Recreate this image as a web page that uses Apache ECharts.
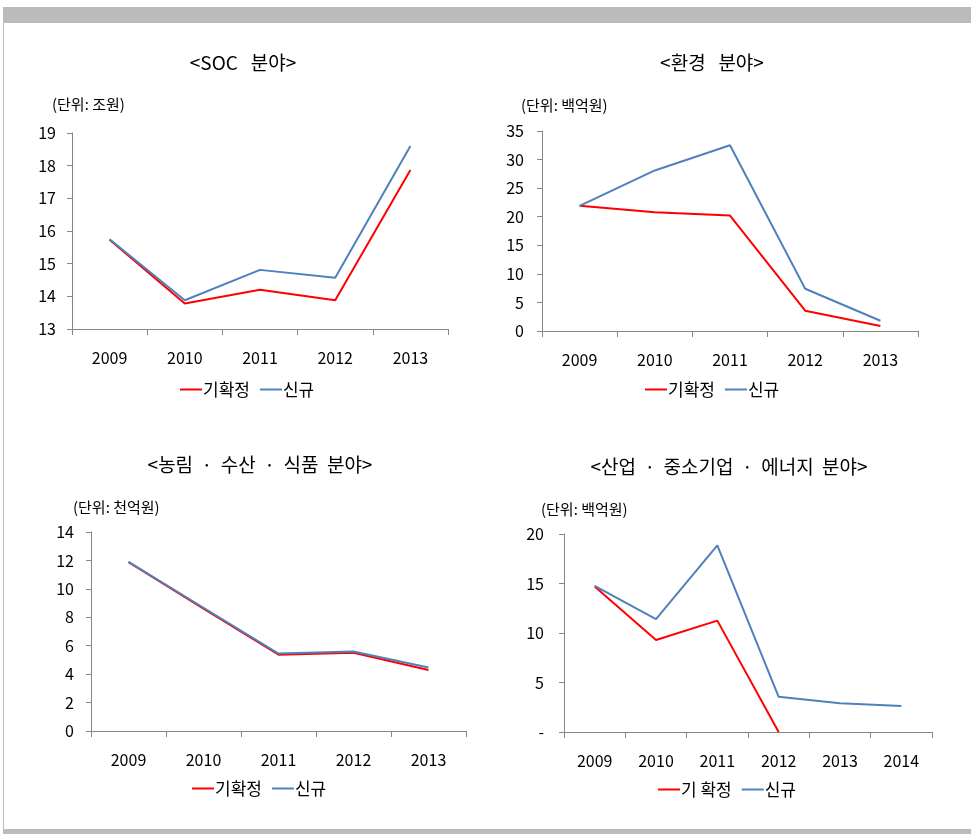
<!DOCTYPE html>
<html>
<head>
<meta charset="utf-8">
<script src="https://cdn.jsdelivr.net/npm/echarts@6/dist/echarts.min.js"></script>
<style>
  body { margin: 0; background: #fff; }
  #page { position: relative; width: 971px; height: 834px; overflow: hidden; }
  .frameTop { position: absolute; left: 3px; top: 7px; width: 968px; height: 16px; background: #bbbbbb; }
  .frameLeft { position: absolute; left: 3px; top: 7px; width: 1px; height: 827px; background: #bbbbbb; }
  .frameBottom { position: absolute; left: 3px; top: 829px; width: 968px; height: 5px; background: #bbbbbb; }
  .chart { position: absolute; }
</style>
</head>
<body>
<div id="page">
  <div class="frameTop"></div>
  <div class="frameLeft"></div>
  <div class="frameBottom"></div>
  <div id="item1" class="chart" style="left:0;top:0;width:485px;height:417px"></div>
  <div id="item2" class="chart" style="left:485px;top:0;width:486px;height:417px"></div>
  <div id="item3" class="chart" style="left:0;top:417px;width:485px;height:417px"></div>
  <div id="item4" class="chart" style="left:485px;top:417px;width:486px;height:417px"></div>
</div>
<script>
// 공통 범례
const legendNames = ['기확정', '신규']
const legendNames4 = ['기 확정', '신규']

// SOC 분야 (조원)
const socYears = ['2009', '2010', '2011', '2012', '2013']
const socFixed = [15.73, 13.78, 14.2, 13.88, 17.87]
const socNew = [15.75, 13.88, 14.81, 14.57, 18.6]

// 환경 분야 (백억원)
const envYears = ['2009', '2010', '2011', '2012', '2013']
const envFixed = [21.9, 20.8, 20.2, 3.55, 0.88]
const envNew = [21.9, 28.1, 32.5, 7.4, 1.8]

// 농림·수산·식품 분야 (천억원)
const agrYears = ['2009', '2010', '2011', '2012', '2013']
const agrFixed = [11.88, 8.6, 5.37, 5.5, 4.29]
const agrNew = [11.9, 8.67, 5.45, 5.6, 4.47]

// 산업·중소기업·에너지 분야 (백억원)
const indYears = ['2009', '2010', '2011', '2012', '2013', '2014']
const indFixed = [14.7, 9.3, 11.25, 0, null, null]
const indNew = [14.75, 11.4, 18.85, 3.55, 2.9, 2.63]

const FONT = '"Noto Sans CJK KR", "Noto Sans", sans-serif'
const RED = '#ff0000'
const BLUE = '#4f81bd'
const AXIS = '#868686'

function makeChart(id, c) {
    let chart = echarts.init(document.getElementById(id))
    chart.setOption({
        animation: false,
        textStyle: {fontFamily: FONT},
        graphic: [
            {
                type: 'text', x: c.titleX, y: c.titleY,
                style: {text: c.title, font: '19px ' + FONT, fill: '#000', align: 'center', verticalAlign: 'middle'}
            },
            {
                type: 'text', x: c.unitX, y: c.unitY,
                style: {text: c.unit, font: '15px ' + FONT, fill: '#000', align: 'left', verticalAlign: 'middle'}
            }
        ],
        legend: {
            data: c.names,
            left: c.legendX, top: c.legendY,
            icon: 'rect',
            itemWidth: 22, itemHeight: 2, itemGap: 10,
            textStyle: {fontSize: 17, color: '#000', fontFamily: FONT, padding: [0, 0, 0, -4]}
        },
        grid: c.grid,
        xAxis: {
            type: 'category',
            data: c.years,
            boundaryGap: true,
            axisLine: {lineStyle: {color: AXIS, width: 1}},
            axisTick: {show: true, length: 6, lineStyle: {color: AXIS}},
            axisLabel: {color: '#000', fontSize: 16, margin: 21, fontFamily: FONT}
        },
        yAxis: {
            type: 'value',
            min: c.min, max: c.max, interval: c.interval,
            splitLine: {show: false},
            axisLine: {show: true, lineStyle: {color: AXIS, width: 1}},
            axisTick: {show: true, length: 5, lineStyle: {color: AXIS}},
            axisLabel: {
                color: '#000', fontSize: 16, margin: c.labelMargin, fontFamily: FONT,
                formatter: c.yFormat || (v => String(v))
            }
        },
        series: [
            {
                name: c.names[0], type: 'line', data: c.fixed,
                symbol: 'none', connectNulls: false,
                lineStyle: {color: RED, width: 2}, itemStyle: {color: RED}
            },
            {
                name: c.names[1], type: 'line', data: c.fresh,
                symbol: 'none',
                lineStyle: {color: BLUE, width: 2}, itemStyle: {color: BLUE}
            }
        ]
    })
    return chart
}

makeChart('item1', {
    title: '<SOC   분야>', titleX: 243, titleY: 63,
    unit: '(단위: 조원)', unitX: 52, unitY: 104,
    legendX: 175, legendY: 376, names: legendNames,
    grid: {left: 72, top: 133, width: 376, height: 196},
    years: socYears, fixed: socFixed, fresh: socNew,
    min: 13, max: 19, interval: 1, labelMargin: 16
})

makeChart('item2', {
    title: '<환경   분야>', titleX: 227, titleY: 63,
    unit: '(단위: 백억원)', unitX: 36, unitY: 105,
    legendX: 155, legendY: 376, names: legendNames,
    grid: {left: 57, top: 131, width: 376, height: 200},
    years: envYears, fixed: envFixed, fresh: envNew,
    min: 0, max: 35, interval: 5, labelMargin: 18
})

makeChart('item3', {
    title: '<농림  ·  수산  ·  식품  분야>', titleX: 260, titleY: 48,
    unit: '(단위: 천억원)', unitX: 73, unitY: 90,
    legendX: 187, legendY: 358, names: legendNames,
    grid: {left: 91, top: 115, width: 375, height: 199},
    years: agrYears, fixed: agrFixed, fresh: agrNew,
    min: 0, max: 14, interval: 2, labelMargin: 17
})

makeChart('item4', {
    title: '<산업  ·  중소기업  ·  에너지  분야>', titleX: 244, titleY: 50,
    unit: '(단위: 백억원)', unitX: 56, unitY: 92,
    legendX: 168, legendY: 359, names: legendNames4,
    grid: {left: 79, top: 117, width: 368, height: 198},
    years: indYears, fixed: indFixed, fresh: indNew,
    min: 0, max: 20, interval: 5, labelMargin: 20,
    yFormat: v => (v === 0 ? '-' : String(v))
})
</script>
</body>
</html>
